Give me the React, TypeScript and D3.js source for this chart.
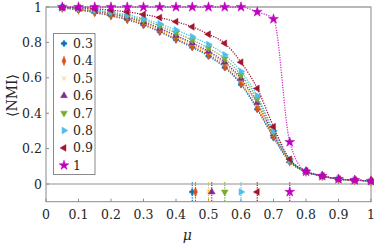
import React, { useRef, useEffect } from 'react';
import * as d3 from 'd3';

const mu = [0.05, 0.1, 0.15, 0.2, 0.25, 0.3, 0.35, 0.4, 0.45, 0.5, 0.55, 0.6, 0.65, 0.7, 0.75, 0.8, 0.85, 0.9, 0.95, 1];

const labels = ['0.3', '0.4', '0.5', '0.6', '0.7', '0.8', '0.9', '1'];

const s03 = [0.994, 0.984, 0.968, 0.95, 0.928, 0.898, 0.86, 0.815, 0.772, 0.722, 0.658, 0.562, 0.422, 0.262, 0.125, 0.068, 0.045, 0.028, 0.022, 0.017];
const s04 = [0.995, 0.985, 0.97, 0.952, 0.931, 0.902, 0.864, 0.82, 0.778, 0.73, 0.665, 0.568, 0.428, 0.268, 0.128, 0.069, 0.045, 0.028, 0.022, 0.017];
const s05 = [0.996, 0.987, 0.974, 0.958, 0.938, 0.91, 0.874, 0.832, 0.79, 0.742, 0.678, 0.585, 0.448, 0.276, 0.13, 0.07, 0.045, 0.028, 0.022, 0.017];
const s06 = [0.996, 0.988, 0.976, 0.961, 0.942, 0.915, 0.88, 0.839, 0.797, 0.75, 0.688, 0.596, 0.46, 0.282, 0.132, 0.07, 0.045, 0.028, 0.022, 0.017];
const s07 = [0.997, 0.99, 0.98, 0.966, 0.949, 0.925, 0.893, 0.854, 0.813, 0.768, 0.708, 0.616, 0.482, 0.292, 0.134, 0.071, 0.045, 0.028, 0.022, 0.017];
const s08 = [0.997, 0.992, 0.983, 0.971, 0.956, 0.934, 0.905, 0.87, 0.832, 0.788, 0.73, 0.636, 0.498, 0.3, 0.136, 0.071, 0.045, 0.028, 0.022, 0.017];
const s09 = [0.998, 0.995, 0.99, 0.982, 0.972, 0.958, 0.94, 0.917, 0.888, 0.846, 0.795, 0.688, 0.54, 0.324, 0.14, 0.074, 0.046, 0.028, 0.022, 0.017];
const s10 = [1, 1, 1, 1, 1, 1, 1, 1, 1, 1, 1, 1, 0.972, 0.932, 0.237, 0.07, 0.045, 0.028, 0.022, 0.017];

// transition points marked below the zero line
const crit = [0.45, 0.46, 0.5, 0.51, 0.55, 0.6, 0.65, 0.75];

const xTicks = [0, 0.1, 0.2, 0.3, 0.4, 0.5, 0.6, 0.7, 0.8, 0.9, 1];
const yTicks = [0, 0.2, 0.4, 0.6, 0.8, 1];

const colors = ['#0072BD', '#D95319', '#EDB120', '#7E2F8E', '#77AC30', '#4DBEEE', '#A2142F', '#BF00BF'];

const App: React.FC = () => {
  const svgRef = useRef<SVGSVGElement>(null);

  useEffect(() => {
    const svg = d3.select(svgRef.current);
    svg.selectAll('*').remove();

    const width = 374;
    const height = 246;
    const left = 46;
    const right = 371;
    const top = 7;
    const bottom = 201.7;
    const font = 'DejaVu Serif, serif';

    const x = d3.scaleLinear().domain([0, 1]).range([left, right]);
    const y = d3.scaleLinear().domain([-0.1, 1]).range([bottom, top]);

    svg.attr('width', width).attr('height', height);

    const series = [s03, s04, s05, s06, s07, s08, s09, s10];

    const types = [d3.symbolCross, d3.symbolDiamond, d3.symbolX, d3.symbolTriangle, d3.symbolTriangle, d3.symbolTriangle, d3.symbolTriangle, d3.symbolStar];
    const rot = [0, 0, 0, 0, 180, 90, -90, 0];
    const sizes = [16, 18, 14, 20, 20, 20, 20, 30];

    const drawMarker = (g: any, i: number, cx: number, cy: number) => {
      g.append('path')
        .attr('d', d3.symbol().type(types[i]).size(sizes[i])() as string)
        .attr('transform', `translate(${cx},${cy}) rotate(${rot[i]})${i === 1 ? ' scale(0.85,1.2)' : ''}`)
        .attr('fill', colors[i])
        .attr('stroke', colors[i])
        .attr('stroke-width', i === 0 || i === 2 ? 0.6 : 0.5);
    };

    // axes box
    svg
      .append('rect')
      .attr('x', left)
      .attr('y', top)
      .attr('width', right - left)
      .attr('height', bottom - top)
      .attr('fill', 'none')
      .attr('stroke', '#8a8a8a')
      .attr('stroke-width', 1);

    // reference lines at 0 and 1
    [0, 1].forEach((v) => {
      svg
        .append('line')
        .attr('x1', left)
        .attr('x2', right)
        .attr('y1', y(v))
        .attr('y2', y(v))
        .attr('stroke', '#b4b4b4')
        .attr('stroke-width', 1.6);
    });

    // ticks
    xTicks.forEach((t) => {
      svg
        .append('line')
        .attr('x1', x(t))
        .attr('x2', x(t))
        .attr('y1', bottom)
        .attr('y2', bottom - 3)
        .attr('stroke', '#8a8a8a');
      svg
        .append('text')
        .attr('x', x(t))
        .attr('y', 219)
        .attr('text-anchor', 'middle')
        .attr('font-family', font)
        .attr('font-size', 12.5)
        .attr('fill', '#262626')
        .text(String(t));
    });
    yTicks.forEach((t) => {
      svg
        .append('line')
        .attr('x1', left)
        .attr('x2', left + 3)
        .attr('y1', y(t))
        .attr('y2', y(t))
        .attr('stroke', '#8a8a8a');
      svg
        .append('text')
        .attr('x', 42)
        .attr('y', y(t) + 4.5)
        .attr('text-anchor', 'end')
        .attr('font-family', font)
        .attr('font-size', 12.5)
        .attr('fill', '#262626')
        .text(String(t));
    });

    svg
      .append('text')
      .attr('x', x(0.435))
      .attr('y', 240)
      .attr('text-anchor', 'middle')
      .attr('font-family', font)
      .attr('font-style', 'italic')
      .attr('font-size', 14)
      .attr('fill', '#262626')
      .text('μ');

    svg
      .append('text')
      .attr('transform', `translate(17,${y(0.5)}) rotate(-90)`)
      .attr('text-anchor', 'middle')
      .attr('font-family', font)
      .attr('font-size', 14)
      .attr('fill', '#262626')
      .text('⟨NMI⟩');

    const line = d3
      .line<number>()
      .x((_, j) => x(mu[j]))
      .y((d) => y(d))
      .curve(d3.curveMonotoneX);

    const plot = svg.append('g');
    series.forEach((s, i) => {
      plot
        .append('path')
        .attr('d', line(s))
        .attr('fill', 'none')
        .attr('stroke', colors[i])
        .attr('stroke-width', 1.3)
        .attr('stroke-dasharray', '1.2 1.3')
        .attr('opacity', i === 7 ? 0.8 : 1);
      s.forEach((v, j) => drawMarker(plot, i, x(mu[j]), y(v)));
    });

    // transition markers
    crit.forEach((c, i) => {
      plot
        .append('line')
        .attr('x1', x(c))
        .attr('x2', x(c))
        .attr('y1', y(0.01))
        .attr('y2', bottom)
        .attr('stroke', colors[i])
        .attr('stroke-width', 1.2)
        .attr('stroke-dasharray', '1.2 1.3');
      drawMarker(plot, i, x(c), y(-0.045));
    });

    // legend
    const lg = svg.append('g');
    lg.append('rect')
      .attr('x', 53.5)
      .attr('y', 33.5)
      .attr('width', 41.5)
      .attr('height', 141)
      .attr('fill', 'white')
      .attr('stroke', '#8a8a8a')
      .attr('stroke-width', 1);
    labels.forEach((l, i) => {
      const ly = 43.5 + i * 17.4;
      drawMarker(lg, i, 64, ly);
      lg.append('text')
        .attr('x', 73)
        .attr('y', ly + 4.5)
        .attr('font-family', font)
        .attr('font-size', 12.5)
        .attr('fill', '#262626')
        .text(l);
    });
  }, []);

  return <svg ref={svgRef} style={{ position: 'absolute', left: 0, top: 0 }} />;
};

export default App;
